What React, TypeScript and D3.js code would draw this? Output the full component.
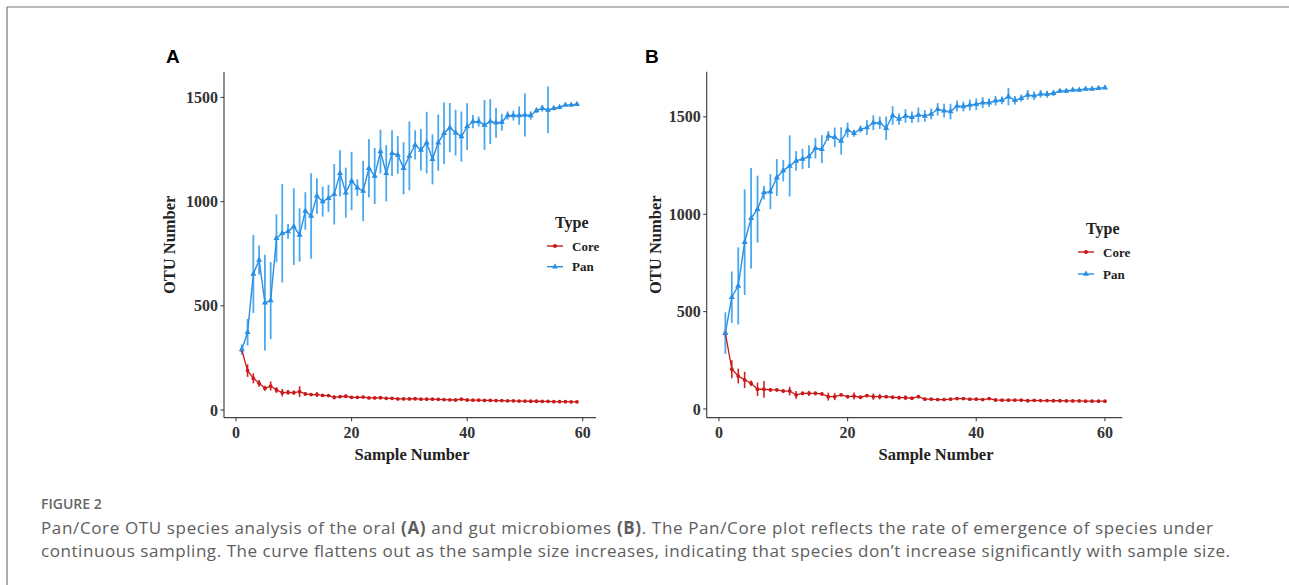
import React from "react";
import * as d3 from "d3";

// ---------- Data ----------
// Panel A (oral): samples 1..59
const panA_mean = [290, 373, 653, 720, 515, 525, 824, 848, 856, 880, 840, 955, 931, 1027, 1000, 1016, 1035, 1136, 1043, 1099, 1067, 1051, 1160, 1123, 1240, 1136, 1232, 1224, 1160, 1219, 1272, 1248, 1283, 1203, 1283, 1328, 1355, 1331, 1312, 1360, 1384, 1384, 1368, 1384, 1379, 1381, 1413, 1413, 1413, 1416, 1413, 1437, 1448, 1440, 1448, 1453, 1464, 1464, 1467];
const panA_err = [25, 64, 187, 70, 230, 185, 115, 236, 36, 184, 128, 90, 205, 85, 72, 65, 145, 110, 120, 140, 40, 145, 140, 135, 105, 135, 110, 90, 125, 165, 70, 100, 148, 120, 135, 148, 118, 110, 120, 112, 32, 24, 120, 108, 72, 40, 20, 24, 44, 104, 20, 12, 16, 112, 10, 8, 6, 5, 4];
const coreA_mean = [288, 189, 152, 128, 104, 115, 96, 83, 85, 83, 88, 77, 74, 74, 70, 69, 61, 64, 66, 61, 61, 62, 58, 58, 59, 56, 56, 53, 53, 53, 54, 52, 52, 52, 51, 50, 49, 48, 52, 48, 47, 47, 46, 46, 45, 45, 44, 44, 43, 43, 42, 42, 41, 41, 40, 40, 40, 39, 39];
const coreA_err = [20, 30, 24, 16, 12, 22, 14, 18, 12, 10, 26, 8, 6, 12, 6, 5, 10, 6, 8, 5, 5, 4, 4, 5, 8, 4, 4, 3, 4, 3, 3, 3, 3, 3, 3, 3, 3, 3, 6, 3, 2, 2, 2, 2, 2, 2, 2, 2, 2, 2, 2, 2, 2, 2, 2, 2, 2, 2, 2];

// Panel B (gut): samples 1..60
const panB_mean = [389, 574, 632, 856, 979, 1026, 1111, 1116, 1188, 1224, 1248, 1274, 1284, 1296, 1339, 1334, 1402, 1395, 1376, 1433, 1416, 1437, 1445, 1470, 1470, 1442, 1507, 1489, 1505, 1498, 1510, 1505, 1515, 1539, 1532, 1527, 1556, 1553, 1561, 1565, 1573, 1573, 1583, 1585, 1604, 1585, 1596, 1613, 1608, 1618, 1616, 1621, 1633, 1633, 1638, 1638, 1643, 1643, 1647, 1650];
const panB_err = [107, 132, 198, 271, 258, 172, 35, 90, 95, 55, 157, 50, 52, 58, 53, 72, 25, 50, 70, 38, 18, 18, 38, 38, 32, 60, 48, 30, 35, 30, 38, 30, 28, 32, 35, 40, 28, 25, 28, 30, 28, 22, 25, 20, 45, 22, 18, 25, 22, 20, 18, 15, 10, 10, 10, 8, 8, 6, 5, 4];
const coreB_mean = [389, 204, 169, 149, 132, 101, 101, 98, 98, 92, 92, 72, 80, 80, 80, 77, 63, 63, 72, 63, 66, 60, 68, 63, 63, 63, 60, 58, 58, 55, 63, 50, 50, 48, 48, 50, 53, 53, 50, 50, 48, 53, 46, 45, 45, 45, 45, 42, 44, 43, 43, 42, 42, 41, 41, 41, 40, 40, 40, 40];
const coreB_err = [20, 46, 38, 42, 14, 34, 43, 10, 8, 8, 22, 20, 10, 14, 10, 8, 20, 18, 6, 8, 18, 8, 6, 16, 14, 8, 6, 10, 12, 6, 8, 8, 4, 4, 4, 4, 4, 4, 4, 4, 4, 4, 3, 3, 3, 3, 3, 3, 3, 2, 2, 2, 2, 2, 2, 2, 2, 2, 2, 2];

const xTicks = [0, 20, 40, 60];
const yTicks = [0, 500, 1000, 1500];
const seriesNames = ["Core", "Pan"];

const captionLine1a = "Pan/Core OTU species analysis of the oral ";
const captionLine1b = " and gut microbiomes ";
const captionLine1c = ". The Pan/Core plot reflects the rate of emergence of species under";
const captionLine2 = "continuous sampling. The curve flattens out as the sample size increases, indicating that species don\u2019t increase significantly with sample size.";

// ---------- Styles ----------
const PAN_LINE = "#2a8fe3";
const PAN_ERR = "#4aa9ee";
const CORE_LINE = "#c81a1a";
const CORE_ERR = "#d42020";
const AXIS = "#444";
const SERIF = "'Liberation Serif', 'Times New Roman', serif";

type PanelProps = {
  label: string;
  labelX: number;
  xDomain: [number, number];
  xRange: [number, number];
  yDomain: [number, number];
  yRange: [number, number];
  pan: number[];
  panErr: number[];
  core: number[];
  coreErr: number[];
  yTitleX: number;
  xTitleX: number;
  legendX: number;
  legendY: number;
  legendGap: number;
};

function Panel(p: PanelProps) {
  const x = d3.scaleLinear().domain(p.xDomain).range(p.xRange);
  const y = d3.scaleLinear().domain(p.yDomain).range(p.yRange);
  const [x0, x1] = p.xRange;
  const [yb, yt] = p.yRange;
  const line = d3
    .line<number>()
    .x((_, i) => x(i + 1))
    .y((d) => y(d));
  const tri = d3.symbol(d3.symbolTriangle, 16)() as string;

  const errBars = (vals: number[], errs: number[], color: string, w: number) =>
    vals.map((v, i) => (
      <line
        key={i}
        x1={x(i + 1)}
        x2={x(i + 1)}
        y1={y(v - errs[i])}
        y2={y(v + errs[i])}
        stroke={color}
        strokeWidth={w}
      />
    ));

  return (
    <g>
      <text x={p.labelX} y={63} fontFamily="'Liberation Sans', Arial, sans-serif" fontWeight={700} fontSize={19} fill="#000">
        {p.label}
      </text>
      <g>{errBars(p.core, p.coreErr, CORE_ERR, 1.6)}</g>
      <g>{errBars(p.pan, p.panErr, PAN_ERR, 1.8)}</g>
      <path d={line(p.core) as string} fill="none" stroke={CORE_LINE} strokeWidth={1.3} />
      <path d={line(p.pan) as string} fill="none" stroke={PAN_LINE} strokeWidth={1.4} />
      <g>
        {p.core.map((v, i) => (
          <circle key={i} cx={x(i + 1)} cy={y(v)} r={1.9} fill={CORE_LINE} />
        ))}
      </g>
      <g>
        {p.pan.map((v, i) => (
          <path key={i} d={tri} transform={`translate(${x(i + 1)},${y(v)})`} fill={PAN_LINE} />
        ))}
      </g>
      <line x1={x0} x2={x0} y1={yt} y2={yb} stroke={AXIS} strokeWidth={1.2} />
      <line x1={x0} x2={x1} y1={yb} y2={yb} stroke={AXIS} strokeWidth={1.2} />
      {yTicks.map((t) => (
        <g key={t}>
          <line x1={x0 - 3.5} x2={x0} y1={y(t)} y2={y(t)} stroke={AXIS} strokeWidth={1.1} />
          <text
            x={x0 - 6}
            y={y(t)}
            dy="0.35em"
            textAnchor="end"
            fontFamily={SERIF}
            fontWeight={700}
            fontSize={16}
            fill="#333"
          >
            {t}
          </text>
        </g>
      ))}
      {xTicks.map((t) => (
        <g key={t}>
          <line x1={x(t)} x2={x(t)} y1={yb} y2={yb + 3.5} stroke={AXIS} strokeWidth={1.1} />
          <text
            x={x(t)}
            y={yb + 20}
            textAnchor="middle"
            fontFamily={SERIF}
            fontWeight={700}
            fontSize={16}
            fill="#333"
          >
            {t}
          </text>
        </g>
      ))}
      <text
        transform={`translate(${p.yTitleX},${(yt + yb) / 2}) rotate(-90)`}
        textAnchor="middle"
        fontFamily={SERIF}
        fontWeight={700}
        fontSize={16.5}
        fill="#222"
      >
        OTU Number
      </text>
      <text x={p.xTitleX} y={460} textAnchor="middle" fontFamily={SERIF} fontWeight={700} fontSize={16.5} fill="#222">
        Sample Number
      </text>
      <g transform={`translate(${p.legendX},${p.legendY})`}>
        <text x={8} y={0} dy="0.35em" fontFamily={SERIF} fontWeight={700} fontSize={16} fill="#222">
          Type
        </text>
        {seriesNames.map((name, i) => {
          const ly = 24 + i * p.legendGap;
          const color = name === "Core" ? CORE_LINE : PAN_LINE;
          return (
            <g key={name}>
              <line x1={0} x2={16} y1={ly} y2={ly} stroke={color} strokeWidth={1.4} />
              {name === "Core" ? (
                <circle cx={8} cy={ly} r={2} fill={color} />
              ) : (
                <path d={tri} transform={`translate(8,${ly})`} fill={color} />
              )}
              <text x={25} y={ly} dy="0.35em" fontFamily={SERIF} fontWeight={700} fontSize={13} fill="#222">
                {name}
              </text>
            </g>
          );
        })}
      </g>
    </g>
  );
}

export default function App() {
  return (
    <svg
      width={1289}
      height={585}
      viewBox="0 0 1289 585"
      style={{ position: "absolute", left: 0, top: 0, background: "#fff" }}
    >
      <rect x={0} y={0} width={1289} height={585} fill="#fff" />
      <line x1={7} x2={1289} y1={7} y2={7} stroke="#777" strokeWidth={1.2} />
      <line x1={7} x2={7} y1={7} y2={585} stroke="#777" strokeWidth={1.2} />

      <Panel
        label="A"
        labelX={166}
        xDomain={[-2.08, 62.3]}
        xRange={[224, 596]}
        yDomain={[-37, 1622]}
        yRange={[417.7, 72]}
        pan={panA_mean}
        panErr={panA_err}
        core={coreA_mean}
        coreErr={coreA_err}
        yTitleX={175}
        xTitleX={412}
        legendX={547}
        legendY={222}
        legendGap={20.7}
      />
      <Panel
        label="B"
        labelX={645}
        xDomain={[-1.9, 62.7]}
        xRange={[706.7, 1122.3]}
        yDomain={[-45, 1732]}
        yRange={[417.7, 71.7]}
        pan={panB_mean}
        panErr={panB_err}
        core={coreB_mean}
        coreErr={coreB_err}
        yTitleX={661}
        xTitleX={936}
        legendX={1078}
        legendY={228}
        legendGap={22}
      />

      <text x={41} y={509} fontFamily="'Open Sans', sans-serif" fontWeight={600} fontSize={14} fill="#666">
        FIGURE 2
      </text>
      <text
        x={41}
        y={533.5}
        fontFamily="'Open Sans', sans-serif"
        fontSize={17}
        fill="#5e5e5e"
        textLength={1172}
        lengthAdjust="spacing"
      >
        {captionLine1a}
        <tspan fontWeight={700}>(A)</tspan>
        {captionLine1b}
        <tspan fontWeight={700}>(B)</tspan>
        {captionLine1c}
      </text>
      <text
        x={41}
        y={557}
        fontFamily="'Open Sans', sans-serif"
        fontSize={17}
        fill="#5e5e5e"
        textLength={1189}
        lengthAdjust="spacing"
      >
        {captionLine2}
      </text>
    </svg>
  );
}
